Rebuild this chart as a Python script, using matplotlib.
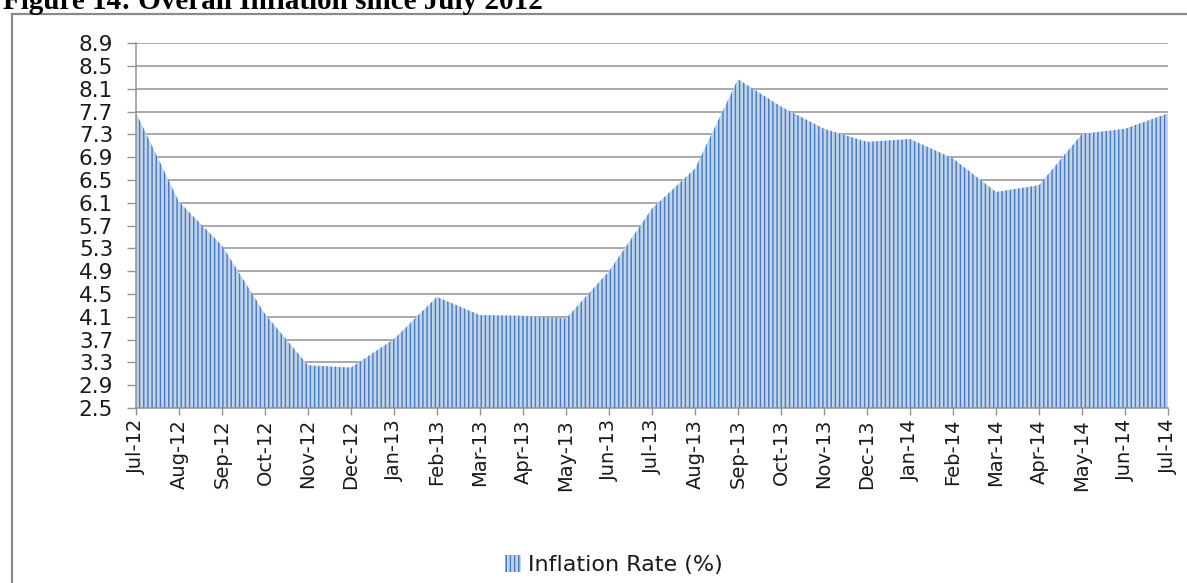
import matplotlib
matplotlib.use("Agg")
import matplotlib.pyplot as plt
from matplotlib.lines import Line2D
import numpy as np

months = ["Jul-12", "Aug-12", "Sep-12", "Oct-12", "Nov-12", "Dec-12", "Jan-13",
          "Feb-13", "Mar-13", "Apr-13", "May-13", "Jun-13", "Jul-13", "Aug-13",
          "Sep-13", "Oct-13", "Nov-13", "Dec-13", "Jan-14", "Feb-14", "Mar-14",
          "Apr-14", "May-14", "Jun-14", "Jul-14"]
inflation = [7.68, 6.12, 5.35, 4.15, 3.25, 3.21, 3.71,
             4.45, 4.13, 4.12, 4.07, 4.90, 6.00, 6.70,
             8.27, 7.79, 7.40, 7.17, 7.22, 6.88, 6.29,
             6.41, 7.31, 7.40, 7.67]
yticks = [2.5, 2.9, 3.3, 3.7, 4.1, 4.5, 4.9, 5.3, 5.7, 6.1, 6.5, 6.9, 7.3, 7.7, 8.1, 8.5, 8.9]
title = "Figure 14: Overall Inflation since July 2012"
series_name = "Inflation Rate (%)"

plt.rcParams['hatch.linewidth'] = 1.05
W, H = 1187, 583
fig = plt.figure(figsize=(W / 100, H / 100), dpi=100)

ax = fig.add_axes([136 / W, 1 - 408 / H, (1168 - 136) / W, (408 - 43.3) / H])
x = np.arange(len(months))
area = ax.fill_between(x, yticks[0], inflation, facecolor='#c3d5ee',
                       edgecolor='#4a7dbd', hatch='||||', linewidth=0,
                       label=series_name, zorder=2)

ax.set_xlim(0, len(months) - 1)
ax.set_ylim(yticks[0], yticks[-1])
ax.set_yticks(yticks)
ax.set_yticklabels([f"{v:.1f}" for v in yticks])
ax.set_xticks(x)
ax.set_xticklabels(months, rotation=90)

grid_c = '#929292'
ax.yaxis.grid(True, color=grid_c, linewidth=1.1, zorder=1)
ax.set_axisbelow(True)
for s in ['top', 'right']:
    ax.spines[s].set_visible(False)
for s in ['left', 'bottom']:
    ax.spines[s].set_color(grid_c)
    ax.spines[s].set_linewidth(1.1)
    ax.spines[s].set_zorder(3)
ax.tick_params(axis='y', length=6.5, width=1.0, color=grid_c, pad=10,
               labelsize=15.5, labelcolor='#1a1a1a')
ax.tick_params(axis='x', length=5, width=1.0, color=grid_c, pad=3,
               labelsize=14, labelcolor='#1a1a1a')

# legend
fig.legend(handles=[area], labels=[series_name], loc='center',
           bbox_to_anchor=(614 / W, 1 - 565 / H), frameon=False,
           fontsize=16, handlelength=0.7, handleheight=0.8,
           handletextpad=0.35, labelcolor='#1a1a1a')

# outer frame (left and top edges)
fc = '#8a8a8a'
fig.add_artist(Line2D([12 / W, 12 / W], [0, 1 - 14 / H], transform=fig.transFigure,
                      color=fc, linewidth=1.6))
fig.add_artist(Line2D([12 / W, 1], [1 - 14 / H, 1 - 14 / H], transform=fig.transFigure,
                      color=fc, linewidth=1.6))

# title (cut at top edge, as in the source page)
fig.text(3 / W, 1 - 9 / H, title, ha='left', va='baseline',
         family='Liberation Serif', weight='bold', fontsize=21, color='black')

fig.savefig("out.png", dpi=100)
